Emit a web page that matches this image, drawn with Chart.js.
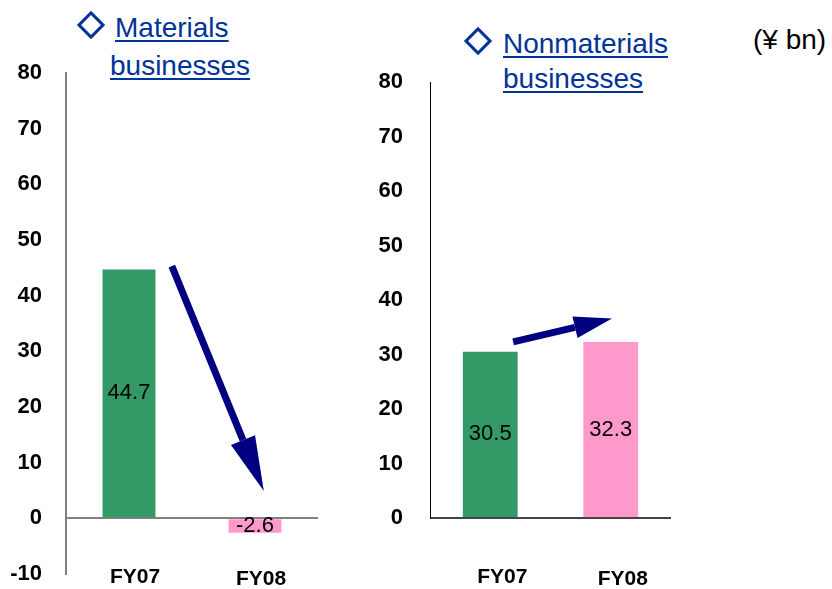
<!DOCTYPE html>
<html>

<head>
    <title>Materials vs Nonmaterials</title>
    <script src="https://cdn.jsdelivr.net/npm/chart.js"></script>
    <style>
        body {
            margin: 0;
            width: 832px;
            height: 589px;
            overflow: hidden;
            background: #fff;
            position: relative;
            font-family: "Liberation Sans", Arial, sans-serif;
        }

        canvas {
            position: absolute;
            top: 0;
        }

        .title {
            position: absolute;
            color: #003399;
            font-size: 28px;
            line-height: 38px;
            text-decoration: underline;
            text-decoration-thickness: 2px;
            text-underline-offset: 3px;
            white-space: nowrap;
        }

        .diamond {
            position: absolute;
            width: 14px;
            height: 14px;
            border: 3px solid #003399;
            transform: rotate(45deg);
        }

        .unit {
            position: absolute;
            left: 753px;
            top: 25px;
            font-size: 28px;
            line-height: 30px;
            color: #000;
        }
    </style>
</head>

<body>
    <div class="diamond" style="left:81px;top:15px"></div>
    <div class="title" style="left:115px;top:9px">Materials</div>
    <div class="title" style="left:110px;top:47px">businesses</div>

    <div class="diamond" style="left:468px;top:31px"></div>
    <div class="title" style="left:503px;top:25px">Nonmaterials</div>
    <div class="title" style="left:503px;top:60px">businesses</div>
    <div class="unit">(¥ bn)</div>

    <canvas id="left-chart" width="340" height="620" style="left:0"></canvas>
    <canvas id="right-chart" width="330" height="620" style="left:370px"></canvas>

    <script>
        // data
        const years = ['FY07', 'FY08'];
        const materialsValues = [44.7, -2.6];
        const nonmaterialsValues = [30.5, 32.3];
        const barColors = ['#339966', '#FF99CC'];
        // arrows in data coords: [categoryIndex, value]
        const materialsArrow = { from: [0.34, 45.3], to: [1.07, 4.9], head: 55, headWidth: 26 };
        const nonmaterialsArrow = { from: [0.19, 32.3], to: [1.01, 36.6], head: 38, headWidth: 22 };

        const FONT = '"Liberation Sans", Arial, sans-serif';

        const barExtras = {
            id: 'barExtras',
            afterDatasetsDraw(chart, args, opts) {
                const ctx = chart.ctx;
                const meta = chart.getDatasetMeta(0);
                const data = chart.data.datasets[0].data;
                const xs = chart.scales.x, ys = chart.scales.y;
                ctx.save();
                ctx.fillStyle = '#000';
                ctx.font = '22px ' + FONT;
                ctx.textAlign = 'center';
                ctx.textBaseline = 'middle';
                meta.data.forEach((bar, i) => {
                    ctx.fillText(data[i].toFixed(1), bar.x, (bar.y + bar.base) / 2);
                });

                // category labels (drawn here so they can sit above the scale box)
                ctx.font = 'bold 21px ' + FONT;
                chart.data.labels.forEach((lab, i) => {
                    ctx.fillText(lab, xs.getPixelForValue(i) + opts.labelOffset, chart.chartArea.bottom + opts.labelDy + i * 2);
                });

                // arrow
                const a = opts.arrow;
                const x0 = xs.getPixelForValue(a.from[0]), y0 = ys.getPixelForValue(a.from[1]);
                const x1 = xs.getPixelForValue(a.to[0]), y1 = ys.getPixelForValue(a.to[1]);
                const ang = Math.atan2(y1 - y0, x1 - x0);
                const bx = x1 - Math.cos(ang) * a.head, by = y1 - Math.sin(ang) * a.head;
                ctx.strokeStyle = '#000080';
                ctx.fillStyle = '#000080';
                ctx.lineWidth = 7;
                ctx.beginPath();
                ctx.moveTo(x0, y0);
                ctx.lineTo(bx, by);
                ctx.stroke();
                const px = -Math.sin(ang) * a.headWidth / 2, py = Math.cos(ang) * a.headWidth / 2;
                ctx.beginPath();
                ctx.moveTo(x1, y1);
                ctx.lineTo(bx + px, by + py);
                ctx.lineTo(bx - px, by - py);
                ctx.closePath();
                ctx.fill();
                ctx.restore();
            }
        };

        function makeChart(id, values, cfg) {
            return new Chart(document.getElementById(id), {
                type: 'bar',
                data: {
                    labels: years,
                    datasets: [{
                        data: values,
                        backgroundColor: barColors,
                        borderWidth: 0,
                        categoryPercentage: 1,
                        barPercentage: cfg.barPct,
                    }],
                },
                options: {
                    responsive: false,
                    animation: false,
                    layout: { padding: { top: cfg.top, right: cfg.right, bottom: 0, left: 0 } },
                    plugins: {
                        legend: { display: false },
                        tooltip: { enabled: false },
                        barExtras: { arrow: cfg.arrow, labelOffset: cfg.labelOffset, labelDy: cfg.labelDy },
                    },
                    scales: {
                        x: {
                            grid: { display: false, drawTicks: false },
                            border: { display: false },
                            ticks: { display: false },
                            afterFit: (s) => { s.height = cfg.xHeight; },
                        },
                        y: {
                            min: cfg.min,
                            max: 80,
                            ticks: {
                                stepSize: 10,
                                color: '#000',
                                font: { family: FONT, size: 22, weight: 'bold' },
                                padding: cfg.yPad,
                            },
                            grid: {
                                drawTicks: false,
                                lineWidth: 2,
                                color: (c) => (c.tick && c.tick.value === 0 ? cfg.zeroColor : 'rgba(0,0,0,0)'),
                            },
                            border: { color: cfg.axisColor, width: cfg.axisWidth },
                            afterFit: (s) => { s.width = cfg.yWidth; },
                        },
                    },
                },
                plugins: [barExtras],
            });
        }

        makeChart('left-chart', materialsValues, {
            barPct: 0.42, top: 73, right: 22, min: -10,
            xHeight: 46, labelDy: 3, labelOffset: 6,
            yWidth: 66, yPad: 24,
            zeroColor: '#808080', axisColor: '#808080', axisWidth: 2,
            arrow: materialsArrow,
        });

        makeChart('right-chart', nonmaterialsValues, {
            barPct: 0.455, top: 82, right: 29, min: 0,
            xHeight: 102, labelDy: 59, labelOffset: 12,
            yWidth: 60, yPad: 27,
            zeroColor: '#444444', axisColor: '#000000', axisWidth: 1,
            arrow: nonmaterialsArrow,
        });
    </script>
</body>

</html>
